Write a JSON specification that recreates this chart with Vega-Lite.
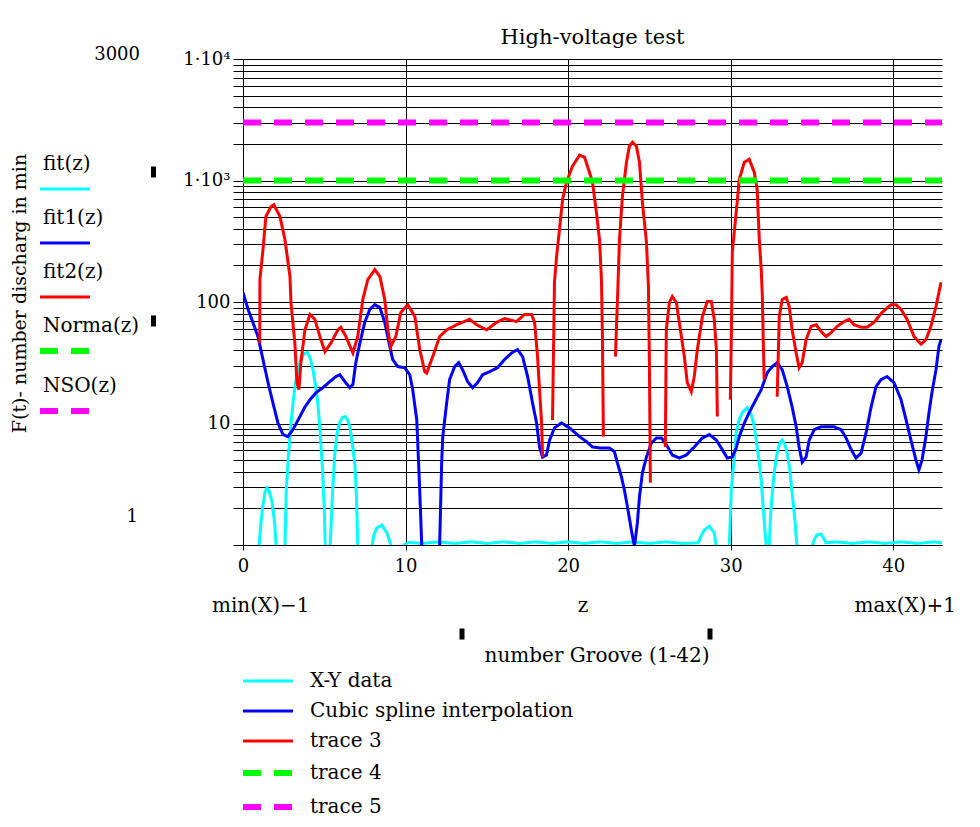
{
"$schema":"https://vega.github.io/schema/vega-lite/v6.json",
"width":699,"height":486,
"autosize":"none",
"padding":{"left":243,"top":59,"right":38,"bottom":282},
"background":"white",
"title":{"text":"High-voltage test","font":"DejaVu Serif","fontSize":21,"fontWeight":"normal","color":"black","anchor":"middle","frame":"group","baseline":"bottom","offset":-23},
"config":{"view":{"stroke":null},"font":"DejaVu Serif","text":{"font":"DejaVu Serif","color":"black"}},
"datasets":{"curves":[
{"s":"X-Y data","z":0.85,"v":0.5},{"s":"X-Y data","z":0.98,"v":0.95},{"s":"X-Y data","z":1.1,"v":1.5},{"s":"X-Y data","z":1.2,"v":2.0},{"s":"X-Y data","z":1.35,"v":2.7},{"s":"X-Y data","z":1.47,"v":2.95},{"s":"X-Y data","z":1.6,"v":2.8},{"s":"X-Y data","z":1.78,"v":2.3},{"s":"X-Y data","z":1.95,"v":1.5},{"s":"X-Y data","z":2.05,"v":0.95},{"s":"X-Y data","z":2.15,"v":0.5},{"s":"X-Y data","z":2.5,"v":0.5},{"s":"X-Y data","z":2.58,"v":0.95},{"s":"X-Y data","z":2.66,"v":2.8},{"s":"X-Y data","z":2.8,"v":5.5},{"s":"X-Y data","z":2.92,"v":9},{"s":"X-Y data","z":3.07,"v":14.5},{"s":"X-Y data","z":3.22,"v":21},{"s":"X-Y data","z":3.38,"v":27.5},{"s":"X-Y data","z":3.55,"v":33},{"s":"X-Y data","z":3.75,"v":37.5},{"s":"X-Y data","z":3.97,"v":38.5},{"s":"X-Y data","z":4.15,"v":34},{"s":"X-Y data","z":4.3,"v":28},{"s":"X-Y data","z":4.45,"v":21},{"s":"X-Y data","z":4.61,"v":14.5},{"s":"X-Y data","z":4.76,"v":8},{"s":"X-Y data","z":4.9,"v":4},{"s":"X-Y data","z":5.0,"v":2},{"s":"X-Y data","z":5.06,"v":0.95},{"s":"X-Y data","z":5.15,"v":0.5},{"s":"X-Y data","z":5.3,"v":0.5},{"s":"X-Y data","z":5.36,"v":0.95},{"s":"X-Y data","z":5.5,"v":2.6},{"s":"X-Y data","z":5.65,"v":5.7},{"s":"X-Y data","z":5.8,"v":8.5},{"s":"X-Y data","z":5.96,"v":10.3},{"s":"X-Y data","z":6.12,"v":11.2},{"s":"X-Y data","z":6.27,"v":11.4},{"s":"X-Y data","z":6.42,"v":10.8},{"s":"X-Y data","z":6.57,"v":9.4},{"s":"X-Y data","z":6.72,"v":7},{"s":"X-Y data","z":6.88,"v":4.6},{"s":"X-Y data","z":6.98,"v":2.5},{"s":"X-Y data","z":7.06,"v":0.95},{"s":"X-Y data","z":7.15,"v":0.5},{"s":"X-Y data","z":7.8,"v":0.5},{"s":"X-Y data","z":7.92,"v":0.95},{"s":"X-Y data","z":8.05,"v":1.2},{"s":"X-Y data","z":8.23,"v":1.38},{"s":"X-Y data","z":8.54,"v":1.46},{"s":"X-Y data","z":8.85,"v":1.26},{"s":"X-Y data","z":9.05,"v":1.05},{"s":"X-Y data","z":9.15,"v":0.95},{"s":"X-Y data","z":9.25,"v":0.5},{"s":"X-Y data","z":9.8,"v":0.5},{"s":"X-Y data","z":9.9,"v":1.0},{"s":"X-Y data","z":10.2,"v":1.05},{"s":"X-Y data","z":11,"v":1.03},{"s":"X-Y data","z":12,"v":1.06},{"s":"X-Y data","z":13,"v":1.03},{"s":"X-Y data","z":14,"v":1.06},{"s":"X-Y data","z":15,"v":1.03},{"s":"X-Y data","z":16,"v":1.06},{"s":"X-Y data","z":17,"v":1.03},{"s":"X-Y data","z":18,"v":1.06},{"s":"X-Y data","z":19,"v":1.03},{"s":"X-Y data","z":20,"v":1.06},{"s":"X-Y data","z":21,"v":1.03},{"s":"X-Y data","z":22,"v":1.06},{"s":"X-Y data","z":23,"v":1.03},{"s":"X-Y data","z":24,"v":1.06},{"s":"X-Y data","z":25,"v":1.03},{"s":"X-Y data","z":26,"v":1.06},{"s":"X-Y data","z":27,"v":1.03},{"s":"X-Y data","z":28.0,"v":1.04},{"s":"X-Y data","z":28.2,"v":1.2},{"s":"X-Y data","z":28.38,"v":1.33},{"s":"X-Y data","z":28.69,"v":1.43},{"s":"X-Y data","z":28.99,"v":1.26},{"s":"X-Y data","z":29.12,"v":0.95},{"s":"X-Y data","z":29.25,"v":0.5},{"s":"X-Y data","z":29.8,"v":0.5},{"s":"X-Y data","z":29.91,"v":0.95},{"s":"X-Y data","z":30.04,"v":2.84},{"s":"X-Y data","z":30.13,"v":4},{"s":"X-Y data","z":30.22,"v":5},{"s":"X-Y data","z":30.34,"v":8.4},{"s":"X-Y data","z":30.5,"v":10.5},{"s":"X-Y data","z":30.71,"v":12.3},{"s":"X-Y data","z":31.02,"v":13.5},{"s":"X-Y data","z":31.3,"v":11.5},{"s":"X-Y data","z":31.45,"v":9.5},{"s":"X-Y data","z":31.63,"v":6.4},{"s":"X-Y data","z":31.76,"v":4.8},{"s":"X-Y data","z":31.88,"v":3.4},{"s":"X-Y data","z":31.97,"v":2.3},{"s":"X-Y data","z":32.06,"v":1.61},{"s":"X-Y data","z":32.19,"v":0.97},{"s":"X-Y data","z":32.28,"v":0.8},{"s":"X-Y data","z":32.37,"v":0.97},{"s":"X-Y data","z":32.45,"v":1.7},{"s":"X-Y data","z":32.56,"v":2.69},{"s":"X-Y data","z":32.7,"v":4.2},{"s":"X-Y data","z":32.86,"v":5.7},{"s":"X-Y data","z":33.0,"v":6.8},{"s":"X-Y data","z":33.17,"v":7.3},{"s":"X-Y data","z":33.32,"v":6.8},{"s":"X-Y data","z":33.48,"v":5.7},{"s":"X-Y data","z":33.63,"v":4.2},{"s":"X-Y data","z":33.78,"v":2.69},{"s":"X-Y data","z":33.95,"v":1.6},{"s":"X-Y data","z":34.09,"v":0.95},{"s":"X-Y data","z":34.2,"v":0.5},{"s":"X-Y data","z":34.9,"v":0.5},{"s":"X-Y data","z":35.01,"v":0.95},{"s":"X-Y data","z":35.15,"v":1.12},{"s":"X-Y data","z":35.32,"v":1.21},{"s":"X-Y data","z":35.57,"v":1.23},{"s":"X-Y data","z":35.75,"v":1.12},{"s":"X-Y data","z":35.87,"v":1.04},{"s":"X-Y data","z":36.5,"v":1.06},{"s":"X-Y data","z":37.5,"v":1.03},{"s":"X-Y data","z":38.5,"v":1.06},{"s":"X-Y data","z":39.5,"v":1.03},{"s":"X-Y data","z":40.5,"v":1.06},{"s":"X-Y data","z":41.5,"v":1.03},{"s":"X-Y data","z":42.5,"v":1.06},{"s":"X-Y data","z":43,"v":1.04},
{"s":"Cubic spline interpolation","z":0,"v":120},{"s":"Cubic spline interpolation","z":0.31,"v":87},{"s":"Cubic spline interpolation","z":0.61,"v":68},{"s":"Cubic spline interpolation","z":0.92,"v":52},{"s":"Cubic spline interpolation","z":1.23,"v":33.6},{"s":"Cubic spline interpolation","z":1.54,"v":21.7},{"s":"Cubic spline interpolation","z":1.84,"v":14.8},{"s":"Cubic spline interpolation","z":2.15,"v":10.1},{"s":"Cubic spline interpolation","z":2.46,"v":8.1},{"s":"Cubic spline interpolation","z":2.76,"v":7.8},{"s":"Cubic spline interpolation","z":3.07,"v":8.9},{"s":"Cubic spline interpolation","z":3.5,"v":11.4},{"s":"Cubic spline interpolation","z":3.81,"v":13.7},{"s":"Cubic spline interpolation","z":4.12,"v":15.7},{"s":"Cubic spline interpolation","z":4.48,"v":17.9},{"s":"Cubic spline interpolation","z":4.91,"v":19.7},{"s":"Cubic spline interpolation","z":5.34,"v":22.1},{"s":"Cubic spline interpolation","z":5.71,"v":24.3},{"s":"Cubic spline interpolation","z":5.96,"v":25.2},{"s":"Cubic spline interpolation","z":6.27,"v":22.1},{"s":"Cubic spline interpolation","z":6.57,"v":19.7},{"s":"Cubic spline interpolation","z":6.76,"v":20.9},{"s":"Cubic spline interpolation","z":6.94,"v":31.7},{"s":"Cubic spline interpolation","z":7.19,"v":46},{"s":"Cubic spline interpolation","z":7.49,"v":68},{"s":"Cubic spline interpolation","z":7.8,"v":87},{"s":"Cubic spline interpolation","z":8.11,"v":95},{"s":"Cubic spline interpolation","z":8.42,"v":90},{"s":"Cubic spline interpolation","z":8.72,"v":68},{"s":"Cubic spline interpolation","z":9.03,"v":43},{"s":"Cubic spline interpolation","z":9.21,"v":33.6},{"s":"Cubic spline interpolation","z":9.52,"v":29.4},{"s":"Cubic spline interpolation","z":9.95,"v":28.8},{"s":"Cubic spline interpolation","z":10.26,"v":25.2},{"s":"Cubic spline interpolation","z":10.44,"v":19},{"s":"Cubic spline interpolation","z":10.69,"v":10.7},{"s":"Cubic spline interpolation","z":10.75,"v":6.9},{"s":"Cubic spline interpolation","z":10.87,"v":2.84},{"s":"Cubic spline interpolation","z":10.99,"v":1.04},{"s":"Cubic spline interpolation","z":11.05,"v":0.5},{"s":"Cubic spline interpolation","z":12.05,"v":0.5},{"s":"Cubic spline interpolation","z":12.1,"v":1.04},{"s":"Cubic spline interpolation","z":12.22,"v":4.75},{"s":"Cubic spline interpolation","z":12.29,"v":7.8},{"s":"Cubic spline interpolation","z":12.53,"v":14.8},{"s":"Cubic spline interpolation","z":12.71,"v":23},{"s":"Cubic spline interpolation","z":13.02,"v":29.4},{"s":"Cubic spline interpolation","z":13.27,"v":31.7},{"s":"Cubic spline interpolation","z":13.51,"v":27.7},{"s":"Cubic spline interpolation","z":13.82,"v":22.1},{"s":"Cubic spline interpolation","z":14.13,"v":19.7},{"s":"Cubic spline interpolation","z":14.43,"v":21.7},{"s":"Cubic spline interpolation","z":14.74,"v":25.2},{"s":"Cubic spline interpolation","z":15.17,"v":26.7},{"s":"Cubic spline interpolation","z":15.66,"v":28.8},{"s":"Cubic spline interpolation","z":16.09,"v":33.6},{"s":"Cubic spline interpolation","z":16.52,"v":38},{"s":"Cubic spline interpolation","z":16.89,"v":40.6},{"s":"Cubic spline interpolation","z":17.2,"v":35.5},{"s":"Cubic spline interpolation","z":17.51,"v":24.3},{"s":"Cubic spline interpolation","z":17.81,"v":14.8},{"s":"Cubic spline interpolation","z":18.06,"v":10.1},{"s":"Cubic spline interpolation","z":18.24,"v":6.4},{"s":"Cubic spline interpolation","z":18.43,"v":5.3},{"s":"Cubic spline interpolation","z":18.67,"v":5.5},{"s":"Cubic spline interpolation","z":18.86,"v":7.3},{"s":"Cubic spline interpolation","z":19.16,"v":9.2},{"s":"Cubic spline interpolation","z":19.59,"v":10.1},{"s":"Cubic spline interpolation","z":20.09,"v":9.2},{"s":"Cubic spline interpolation","z":20.7,"v":7.8},{"s":"Cubic spline interpolation","z":21.13,"v":7.1},{"s":"Cubic spline interpolation","z":21.5,"v":6.4},{"s":"Cubic spline interpolation","z":21.93,"v":6.3},{"s":"Cubic spline interpolation","z":22.54,"v":6.3},{"s":"Cubic spline interpolation","z":22.85,"v":5.85},{"s":"Cubic spline interpolation","z":23.03,"v":4.75},{"s":"Cubic spline interpolation","z":23.28,"v":3.64},{"s":"Cubic spline interpolation","z":23.46,"v":2.84},{"s":"Cubic spline interpolation","z":23.65,"v":2.06},{"s":"Cubic spline interpolation","z":23.89,"v":1.33},{"s":"Cubic spline interpolation","z":24.08,"v":0.97},{"s":"Cubic spline interpolation","z":24.26,"v":1.52},{"s":"Cubic spline interpolation","z":24.39,"v":2.49},{"s":"Cubic spline interpolation","z":24.57,"v":3.93},{"s":"Cubic spline interpolation","z":24.82,"v":5.3},{"s":"Cubic spline interpolation","z":25.12,"v":6.9},{"s":"Cubic spline interpolation","z":25.43,"v":7.6},{"s":"Cubic spline interpolation","z":25.74,"v":7.6},{"s":"Cubic spline interpolation","z":26.04,"v":6.7},{"s":"Cubic spline interpolation","z":26.41,"v":5.5},{"s":"Cubic spline interpolation","z":26.84,"v":5.2},{"s":"Cubic spline interpolation","z":27.27,"v":5.5},{"s":"Cubic spline interpolation","z":27.76,"v":6.4},{"s":"Cubic spline interpolation","z":28.26,"v":7.6},{"s":"Cubic spline interpolation","z":28.69,"v":8.1},{"s":"Cubic spline interpolation","z":29.12,"v":7.3},{"s":"Cubic spline interpolation","z":29.48,"v":6.1},{"s":"Cubic spline interpolation","z":29.79,"v":5.2},{"s":"Cubic spline interpolation","z":30.1,"v":5.3},{"s":"Cubic spline interpolation","z":30.34,"v":6.3},{"s":"Cubic spline interpolation","z":30.53,"v":7.8},{"s":"Cubic spline interpolation","z":30.84,"v":10.1},{"s":"Cubic spline interpolation","z":31.14,"v":12.3},{"s":"Cubic spline interpolation","z":31.45,"v":14.8},{"s":"Cubic spline interpolation","z":31.88,"v":19},{"s":"Cubic spline interpolation","z":32.25,"v":26.2},{"s":"Cubic spline interpolation","z":32.56,"v":29.4},{"s":"Cubic spline interpolation","z":32.86,"v":31.7},{"s":"Cubic spline interpolation","z":33.17,"v":27.7},{"s":"Cubic spline interpolation","z":33.48,"v":20.1},{"s":"Cubic spline interpolation","z":33.78,"v":13.7},{"s":"Cubic spline interpolation","z":34.03,"v":9.4},{"s":"Cubic spline interpolation","z":34.21,"v":6.4},{"s":"Cubic spline interpolation","z":34.4,"v":4.8},{"s":"Cubic spline interpolation","z":34.64,"v":5.3},{"s":"Cubic spline interpolation","z":34.83,"v":7.3},{"s":"Cubic spline interpolation","z":35.14,"v":8.9},{"s":"Cubic spline interpolation","z":35.57,"v":9.4},{"s":"Cubic spline interpolation","z":36.36,"v":9.4},{"s":"Cubic spline interpolation","z":36.79,"v":8.9},{"s":"Cubic spline interpolation","z":37.1,"v":7.6},{"s":"Cubic spline interpolation","z":37.41,"v":6.1},{"s":"Cubic spline interpolation","z":37.71,"v":5.2},{"s":"Cubic spline interpolation","z":38.02,"v":5.7},{"s":"Cubic spline interpolation","z":38.33,"v":8.4},{"s":"Cubic spline interpolation","z":38.64,"v":13.7},{"s":"Cubic spline interpolation","z":38.94,"v":20.1},{"s":"Cubic spline interpolation","z":39.25,"v":23},{"s":"Cubic spline interpolation","z":39.62,"v":24.3},{"s":"Cubic spline interpolation","z":40.05,"v":21.7},{"s":"Cubic spline interpolation","z":40.48,"v":15.7},{"s":"Cubic spline interpolation","z":40.79,"v":10.7},{"s":"Cubic spline interpolation","z":41.09,"v":7.3},{"s":"Cubic spline interpolation","z":41.4,"v":5.0},{"s":"Cubic spline interpolation","z":41.58,"v":4.16},{"s":"Cubic spline interpolation","z":41.77,"v":5.0},{"s":"Cubic spline interpolation","z":42.01,"v":7.8},{"s":"Cubic spline interpolation","z":42.2,"v":12.3},{"s":"Cubic spline interpolation","z":42.38,"v":17.9},{"s":"Cubic spline interpolation","z":42.63,"v":27.7},{"s":"Cubic spline interpolation","z":42.81,"v":43},{"s":"Cubic spline interpolation","z":42.94,"v":49},
{"s":"trace 3","z":1.03,"v":46},{"s":"trace 3","z":1.04,"v":153},{"s":"trace 3","z":1.23,"v":271},{"s":"trace 3","z":1.41,"v":507},{"s":"trace 3","z":1.72,"v":608},{"s":"trace 3","z":1.9,"v":631},{"s":"trace 3","z":2.27,"v":507},{"s":"trace 3","z":2.58,"v":327},{"s":"trace 3","z":2.89,"v":162},{"s":"trace 3","z":2.95,"v":99},{"s":"trace 3","z":3.19,"v":46},{"s":"trace 3","z":3.32,"v":21.7},{"s":"trace 3","z":3.44,"v":19},{"s":"trace 3","z":3.56,"v":31.7},{"s":"trace 3","z":3.81,"v":59},{"s":"trace 3","z":4.12,"v":79},{"s":"trace 3","z":4.42,"v":72},{"s":"trace 3","z":4.73,"v":52},{"s":"trace 3","z":5.04,"v":39},{"s":"trace 3","z":5.41,"v":46},{"s":"trace 3","z":5.84,"v":59},{"s":"trace 3","z":6.02,"v":62},{"s":"trace 3","z":6.33,"v":52},{"s":"trace 3","z":6.76,"v":38},{"s":"trace 3","z":7.06,"v":52},{"s":"trace 3","z":7.37,"v":105},{"s":"trace 3","z":7.68,"v":153},{"s":"trace 3","z":8.11,"v":185},{"s":"trace 3","z":8.42,"v":162},{"s":"trace 3","z":8.72,"v":105},{"s":"trace 3","z":8.91,"v":59},{"s":"trace 3","z":9.09,"v":43},{"s":"trace 3","z":9.4,"v":52},{"s":"trace 3","z":9.71,"v":82},{"s":"trace 3","z":10.14,"v":95},{"s":"trace 3","z":10.57,"v":76},{"s":"trace 3","z":10.87,"v":41},{"s":"trace 3","z":11.18,"v":26.7},{"s":"trace 3","z":11.3,"v":26},{"s":"trace 3","z":11.67,"v":35.5},{"s":"trace 3","z":12.1,"v":52},{"s":"trace 3","z":12.53,"v":59},{"s":"trace 3","z":13.14,"v":65},{"s":"trace 3","z":13.94,"v":72},{"s":"trace 3","z":14.37,"v":65},{"s":"trace 3","z":14.99,"v":59},{"s":"trace 3","z":15.6,"v":68},{"s":"trace 3","z":16.09,"v":73},{"s":"trace 3","z":16.83,"v":69},{"s":"trace 3","z":17.32,"v":79},{"s":"trace 3","z":17.75,"v":79},{"s":"trace 3","z":17.94,"v":68},{"s":"trace 3","z":18.12,"v":35.5},{"s":"trace 3","z":18.24,"v":19},{"s":"trace 3","z":18.37,"v":10},{"s":"trace 3","z":18.43,"v":5.3},{"s":"trace 3","z":18.7,"v":null},
{"s":"trace 3","z":19.04,"v":10.7},{"s":"trace 3","z":19.16,"v":145},{"s":"trace 3","z":19.29,"v":237},{"s":"trace 3","z":19.47,"v":396},{"s":"trace 3","z":19.66,"v":700},{"s":"trace 3","z":19.9,"v":968},{"s":"trace 3","z":20.27,"v":1312},{"s":"trace 3","z":20.7,"v":1615},{"s":"trace 3","z":21.01,"v":1556},{"s":"trace 3","z":21.31,"v":1170},{"s":"trace 3","z":21.5,"v":968},{"s":"trace 3","z":21.74,"v":547},{"s":"trace 3","z":21.93,"v":327},{"s":"trace 3","z":22.05,"v":153},{"s":"trace 3","z":22.11,"v":52},{"s":"trace 3","z":22.17,"v":7.8},{"s":"trace 3","z":22.5,"v":null},
{"s":"trace 3","z":22.91,"v":35.5},{"s":"trace 3","z":23.03,"v":99},{"s":"trace 3","z":23.16,"v":327},{"s":"trace 3","z":23.34,"v":741},{"s":"trace 3","z":23.59,"v":1415},{"s":"trace 3","z":23.77,"v":1916},{"s":"trace 3","z":23.96,"v":2066},{"s":"trace 3","z":24.2,"v":1916},{"s":"trace 3","z":24.39,"v":1415},{"s":"trace 3","z":24.57,"v":662},{"s":"trace 3","z":24.82,"v":310},{"s":"trace 3","z":24.94,"v":134},{"s":"trace 3","z":25.0,"v":31.7},{"s":"trace 3","z":25.06,"v":3.25},{"s":"trace 3","z":25.5,"v":null},
{"s":"trace 3","z":25.98,"v":6.4},{"s":"trace 3","z":26.04,"v":59},{"s":"trace 3","z":26.23,"v":99},{"s":"trace 3","z":26.41,"v":111},{"s":"trace 3","z":26.66,"v":99},{"s":"trace 3","z":26.84,"v":68},{"s":"trace 3","z":27.15,"v":35.5},{"s":"trace 3","z":27.33,"v":21.7},{"s":"trace 3","z":27.58,"v":18.3},{"s":"trace 3","z":27.76,"v":24.3},{"s":"trace 3","z":27.95,"v":40.6},{"s":"trace 3","z":28.26,"v":76},{"s":"trace 3","z":28.56,"v":101},{"s":"trace 3","z":28.81,"v":101},{"s":"trace 3","z":28.99,"v":72},{"s":"trace 3","z":29.12,"v":40.6},{"s":"trace 3","z":29.18,"v":11.4},{"s":"trace 3","z":29.5,"v":null},
{"s":"trace 3","z":29.98,"v":15.7},{"s":"trace 3","z":30.04,"v":52},{"s":"trace 3","z":30.1,"v":256},{"s":"trace 3","z":30.34,"v":547},{"s":"trace 3","z":30.53,"v":1024},{"s":"trace 3","z":30.84,"v":1415},{"s":"trace 3","z":31.14,"v":1497},{"s":"trace 3","z":31.45,"v":1170},{"s":"trace 3","z":31.63,"v":847},{"s":"trace 3","z":31.76,"v":327},{"s":"trace 3","z":31.88,"v":185},{"s":"trace 3","z":31.94,"v":120},{"s":"trace 3","z":32.06,"v":23},{"s":"trace 3","z":32.4,"v":null},
{"s":"trace 3","z":32.86,"v":16.6},{"s":"trace 3","z":32.99,"v":76},{"s":"trace 3","z":33.17,"v":105},{"s":"trace 3","z":33.42,"v":109},{"s":"trace 3","z":33.6,"v":92},{"s":"trace 3","z":33.78,"v":59},{"s":"trace 3","z":34.03,"v":38},{"s":"trace 3","z":34.21,"v":28.8},{"s":"trace 3","z":34.4,"v":31.7},{"s":"trace 3","z":34.64,"v":49},{"s":"trace 3","z":34.95,"v":63},{"s":"trace 3","z":35.26,"v":65},{"s":"trace 3","z":35.57,"v":57},{"s":"trace 3","z":35.87,"v":52},{"s":"trace 3","z":36.18,"v":56},{"s":"trace 3","z":36.55,"v":63},{"s":"trace 3","z":36.98,"v":69},{"s":"trace 3","z":37.29,"v":72},{"s":"trace 3","z":37.59,"v":65},{"s":"trace 3","z":38.02,"v":62},{"s":"trace 3","z":38.39,"v":62},{"s":"trace 3","z":38.82,"v":68},{"s":"trace 3","z":39.31,"v":82},{"s":"trace 3","z":39.86,"v":95},{"s":"trace 3","z":40.17,"v":95},{"s":"trace 3","z":40.48,"v":87},{"s":"trace 3","z":40.85,"v":72},{"s":"trace 3","z":41.28,"v":52},{"s":"trace 3","z":41.71,"v":45},{"s":"trace 3","z":42.01,"v":49},{"s":"trace 3","z":42.32,"v":63},{"s":"trace 3","z":42.63,"v":92},{"s":"trace 3","z":42.94,"v":145},
{"s":"trace 4","z":0,"v":1000},{"s":"trace 4","z":43,"v":1000},
{"s":"trace 5","z":0,"v":3000},{"s":"trace 5","z":43,"v":3000}
]},
"encoding":{
 "x":{"field":"z","type":"quantitative","scale":{"domain":[0,43],"nice":false,"zero":false},
  "axis":{"values":[0,10,20,30,40],"title":null,"grid":true,"gridColor":"black","gridOpacity":1,"gridWidth":1,"domainColor":"black","domainWidth":1,"tickColor":"black","tickSize":5,"tickWidth":1,"labelFont":"DejaVu Serif","labelFontSize":18,"labelColor":"black","labelPadding":7,"labelFlush":false,"labelOverlap":false,"format":"d"}},
 "y":{"field":"v","type":"quantitative","scale":{"type":"log","domain":[1,10000],"nice":false},
  "axis":{"values":[1,2,3,4,5,6,7,8,9,10,20,30,40,50,60,70,80,90,100,200,300,400,500,600,700,800,900,1000,2000,3000,4000,5000,6000,7000,8000,9000,10000],
   "labelExpr":"datum.value == 10000 ? '1·10⁴' : datum.value == 1000 ? '1·10³' : datum.value == 100 ? '100' : datum.value == 10 ? '10' : ''",
   "title":"F(t)- number discharg in min","titleX":-218,"titleY":234,"titleAngle":-90,"titleAlign":"center","titleBaseline":"alphabetic","titleFont":"DejaVu Serif","titleFontSize":19,"titleFontWeight":"normal","titleColor":"black",
   "grid":true,"gridColor":"black","gridOpacity":1,"gridWidth":1,"domainColor":"black","domainWidth":1,"tickColor":"black","tickSize":10,"tickWidth":1,"labelFont":"DejaVu Serif","labelFontSize":18,"labelColor":"black","labelPadding":3,"labelFlush":false,"labelOverlap":false}}
},
"layer":[
 {"data":{"name":"curves"},"mark":{"type":"line","clip":true,"strokeCap":"butt"},
  "encoding":{
   "color":{"field":"s","type":"nominal","scale":{"domain":["X-Y data","Cubic spline interpolation","trace 3","trace 4","trace 5"],"range":["#00ffff","#0000ff","#ff0000","#00ff00","#ff00ff"]},
     "legend":{"orient":"none","legendX":15,"legendY":612,"title":null,"direction":"vertical","symbolType":"M-5,0H5","symbolSize":100,"labelFont":"DejaVu Serif","labelFontSize":20,"labelColor":"black","labelLimit":600,"labelOffset":32,"rowPadding":10,"padding":0}},
   "strokeDash":{"field":"s","type":"nominal","scale":{"domain":["X-Y data","Cubic spline interpolation","trace 3","trace 4","trace 5"],"range":[[1,0],[1,0],[1,0],[18,13],[18,13]]}},
   "strokeWidth":{"field":"s","type":"nominal","scale":{"type":"ordinal","domain":["X-Y data","Cubic spline interpolation","trace 3","trace 4","trace 5"],"range":[3,3,3,6,6]}}
  }},
 {"data":{"name":"curves"},"transform":[{"filter":"false"}],"mark":{"type":"line","strokeCap":"butt"},
  "encoding":{
   "color":{"field":"s","type":"nominal","scale":{"domain":["X-Y data","Cubic spline interpolation","trace 3","trace 4","trace 5"],"range":["#00ffff","#0000ff","#ff0000","#00ff00","#ff00ff"]},
     "legend":{"orient":"none","legendX":-188,"legendY":95,"title":null,"direction":"vertical","symbolType":"M-5,5H5","symbolSize":100,"labelFont":"DejaVu Serif","labelFontSize":20,"labelColor":"black","labelLimit":600,"labelOffset":-32,"labelBaseline":"middle","rowPadding":13,"padding":0,
       "labelExpr":"datum.label == 'X-Y data' ? 'fit(z)' : datum.label == 'Cubic spline interpolation' ? 'fit1(z)' : datum.label == 'trace 3' ? 'fit2(z)' : datum.label == 'trace 4' ? 'Norma(z)' : 'NSO(z)'"}},
   "strokeDash":{"field":"s","type":"nominal","scale":{"domain":["X-Y data","Cubic spline interpolation","trace 3","trace 4","trace 5"],"range":[[1,0],[1,0],[1,0],[18,13],[18,13]]}},
   "strokeWidth":{"field":"s","type":"nominal","scale":{"type":"ordinal","domain":["X-Y data","Cubic spline interpolation","trace 3","trace 4","trace 5"],"range":[3,3,3,6,6]}}
  }},
 {"data":{"values":[{"t":"3000","z":-6.336,"v":10790},{"t":"1","z":-6.459,"v":1.70}]},
  "mark":{"type":"text","align":"right","baseline":"middle","fontSize":18,"font":"DejaVu Serif","color":"black"},
  "encoding":{"text":{"field":"t","type":"nominal"}}},
 {"data":{"values":[{"t":"max(X)+1","z":43.86,"v":0.3148}]},
  "mark":{"type":"text","align":"right","baseline":"middle","fontSize":20,"font":"DejaVu Serif","color":"black"},
  "encoding":{"text":{"field":"t","type":"nominal"}}},
 {"data":{"values":[{"t":"min(X)−1","z":-1.907,"v":0.3148}]},
  "mark":{"type":"text","align":"left","baseline":"middle","fontSize":20,"font":"DejaVu Serif","color":"black"},
  "encoding":{"text":{"field":"t","type":"nominal"}}},
 {"data":{"values":[{"t":"z","z":20.92,"v":0.3148},{"t":"number Groove (1-42)","z":21.78,"v":0.122}]},
  "mark":{"type":"text","align":"center","baseline":"middle","fontSize":20,"font":"DejaVu Serif","color":"black"},
  "encoding":{"text":{"field":"t","type":"nominal"}}},
 {"data":{"values":[{"z":-5.506,"v":1175},{"z":-5.506,"v":69.8},{"z":13.472,"v":0.1851},{"z":28.728,"v":0.1851}]},
  "mark":{"type":"tick","orient":"vertical","size":11,"thickness":5,"color":"black","opacity":1}}
],
"resolve":{"scale":{"color":"independent","strokeDash":"independent","strokeWidth":"independent"}}
}
